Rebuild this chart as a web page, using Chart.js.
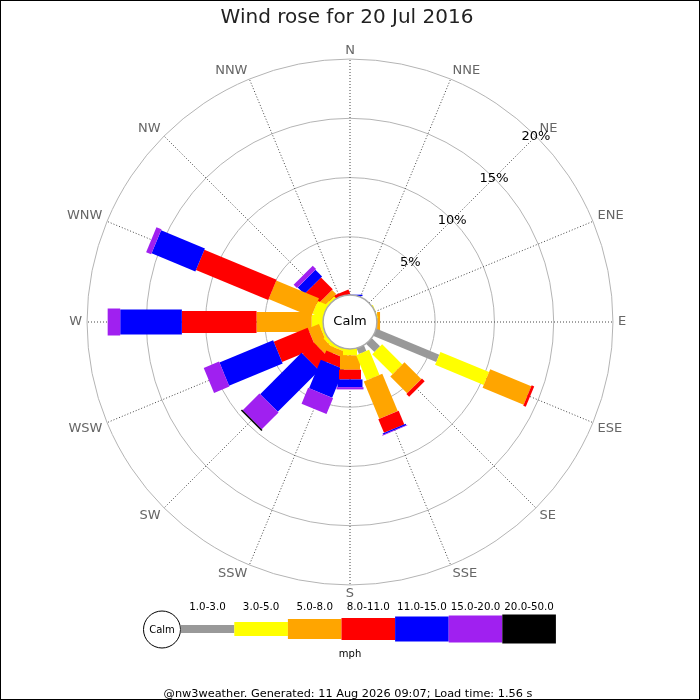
<!DOCTYPE html>
<html><head><meta charset="utf-8">
<script src="https://cdn.jsdelivr.net/npm/chart.js@4.4.1/dist/chart.umd.min.js"></script>
<style>html,body{margin:0;padding:0;background:#fff}canvas{display:block}</style>
</head><body>
<canvas id="c" width="700" height="700"></canvas>
<script>
// ---- data ----
const directions = ['N','NNE','NE','ENE','E','ESE','SE','SSE','S','SSW','SW','WSW','W','WNW','NW','NNW'];
const rangeLabels = ['1.0-3.0','3.0-5.0','5.0-8.0','8.0-11.0','11.0-15.0','15.0-20.0','20.0-50.0'];
// percent of time per direction, per speed range (mph)
const speed1to3   = [0,0,0,0,0,5.83,1.06,0.6,0,0,0,0,0,0,0,0];
const speed3to5   = [0,0,0,0.15,0.1,4.44,2.41,2.3,0.63,0.3,0.4,0.3,1.05,1.0,0.3,0];
const speed5to8   = [0,0,0,0,0.25,3.75,2.0,3.4,1.21,0.5,0.8,1.0,4.65,3.9,0.5,0];
const speed8to11  = [0,0,0,0,0,0.23,0.33,1.25,0.82,0.9,1.35,3.1,6.3,6.6,1.4,0.4];
const speed11to15 = [0.12,0,0,0,0,0,0,0.12,0.65,2.6,4.93,4.9,5.2,4.0,0.8,0];
const speed15to20 = [0,0,0,0,0,0,0,0.05,0.19,1.45,2.0,1.4,1.06,0.46,0.4,0];
const speed20to50 = [0,0,0,0,0,0,0,0,0,0,0.13,0,0,0,0,0];
const tickValues = [5,10,15,20];
const titleText = 'Wind rose for 20 Jul 2016';
const calmText = 'Calm';
const unitText = 'mph';
const footerText = '@nw3weather. Generated: 11 Aug 2026 09:07; Load time: 1.56 s';

// ---- styles ----
const rangeColors = ['#999999','#ffff00','#ffa500','#ff0000','#0000ff','#a020f0','#000000'];
const rangeWidths = [8,14,20,22,25,27,29];
const FONT = "'DejaVu Sans', sans-serif";

const seriesList = [speed1to3, speed3to5, speed5to8, speed8to11, speed11to15, speed15to20, speed20to50];

const windRosePlugin = {
  id: 'windRose',
  afterDatasetsDraw(chart) {
    const scale = chart.scales.r;
    const ctx = chart.ctx;
    const n = chart.data.labels.length;
    const sets = chart.data.datasets;
    const start = chart.data.labels.indexOf('E');
    ctx.save();
    ctx.lineCap = 'butt';
    for (let s = 0; s < n; s++) {
      const i = (start - s + n) % n;
      let cum = 0;
      sets.forEach((ds, k) => {
        const v = ds.data[i];
        if (!v) return;
        const d1 = scale.getDistanceFromCenterForValue(cum);
        cum += v;
        const d2 = scale.getDistanceFromCenterForValue(cum);
        const p1 = scale.getPointPosition(i, d1);
        const p2 = scale.getPointPosition(i, d2);
        ctx.strokeStyle = ds.backgroundColor;
        ctx.lineWidth = rangeWidths[k];
        ctx.beginPath();
        ctx.moveTo(p1.x, p1.y);
        ctx.lineTo(p2.x, p2.y);
        ctx.stroke();
      });
    }
    // calm circle
    const r0 = scale.getDistanceFromCenterForValue(0) + 1;
    ctx.beginPath();
    ctx.arc(scale.xCenter, scale.yCenter, r0, 0, Math.PI * 2);
    ctx.fillStyle = '#fff';
    ctx.fill();
    ctx.lineWidth = 1.5;
    ctx.strokeStyle = '#aaaaaa';
    ctx.stroke();
    ctx.fillStyle = '#000';
    ctx.font = '13px ' + FONT;
    ctx.textAlign = 'center';
    ctx.textBaseline = 'middle';
    ctx.fillText(calmText, scale.xCenter, scale.yCenter);
    // tick labels along NE
    const ne = chart.data.labels.indexOf('NE');
    scale.ticks.forEach(t => {
      const p = scale.getPointPosition(ne, scale.getDistanceFromCenterForValue(t.value));
      ctx.fillText(t.label != null ? t.label : t.value + '%', p.x, p.y + 1);
    });
    ctx.restore();
  },
  afterDraw(chart) {
    const ctx = chart.ctx;
    const sets = chart.data.datasets;
    ctx.save();
    const lx0 = 180.7, segW = 53.6, ly = 629;
    ctx.textAlign = 'center';
    ctx.textBaseline = 'middle';
    // legend calm circle
    ctx.beginPath();
    ctx.arc(162, 629.5, 18.5, 0, Math.PI * 2);
    ctx.fillStyle = '#fff';
    ctx.fill();
    ctx.lineWidth = 1;
    ctx.strokeStyle = '#000';
    ctx.stroke();
    ctx.fillStyle = '#000';
    ctx.font = '10px ' + FONT;
    ctx.fillText(calmText, 162, 630);
    sets.forEach((ds, k) => {
      const x = lx0 + k * segW;
      const h = rangeWidths[k];
      ctx.fillStyle = ds.backgroundColor;
      ctx.fillRect(x, ly - h / 2, segW, h);
      ctx.fillStyle = '#000';
      ctx.font = '10.3px ' + FONT;
      ctx.fillText(ds.label, x + segW / 2, 607.5);
    });
    ctx.font = '10px ' + FONT;
    ctx.fillText(unitText, 350, 654.5);
    ctx.font = '11.3px ' + FONT;
    ctx.fillText(footerText, 348, 694);
    // frame
    ctx.lineWidth = 1;
    ctx.strokeStyle = '#000';
    ctx.strokeRect(0.5, 0.5, 699, 699);
    ctx.restore();
  }
};

new Chart(document.getElementById('c'), {
  type: 'radar',
  data: {
    labels: directions,
    datasets: seriesList.map((data, k) => ({
      label: rangeLabels[k],
      data: data,
      backgroundColor: rangeColors[k],
      borderColor: 'rgba(0,0,0,0)',
      borderWidth: 0,
      showLine: false,
      pointRadius: 0,
      pointHoverRadius: 0,
      pointHitRadius: 0,
      fill: false
    }))
  },
  options: {
    responsive: false,
    animation: false,
    events: [],
    layout: { padding: { left: 64, right: 70, top: 0, bottom: 95 } },
    plugins: {
      legend: { display: false },
      tooltip: { enabled: false },
      title: {
        display: true, text: titleText, color: '#222',
        font: { family: FONT, size: 20, weight: 'normal' },
        padding: { top: 6, bottom: 9 }
      }
    },
    scales: {
      r: {
        min: -2.185, max: 20,
        afterBuildTicks: s => { s.ticks = tickValues.map(v => ({ value: v })); },
        ticks: { display: false, callback: v => v + '%' },
        grid: { circular: true, color: '#b4b4b4', lineWidth: 1 },
        angleLines: { color: '#444', lineWidth: 1, borderDash: [1, 2] },
        pointLabels: { color: '#666', font: { family: FONT, size: 13, lineHeight: 0.6 }, padding: 5 }
      }
    }
  },
  plugins: [windRosePlugin]
});
</script>
</body></html>
